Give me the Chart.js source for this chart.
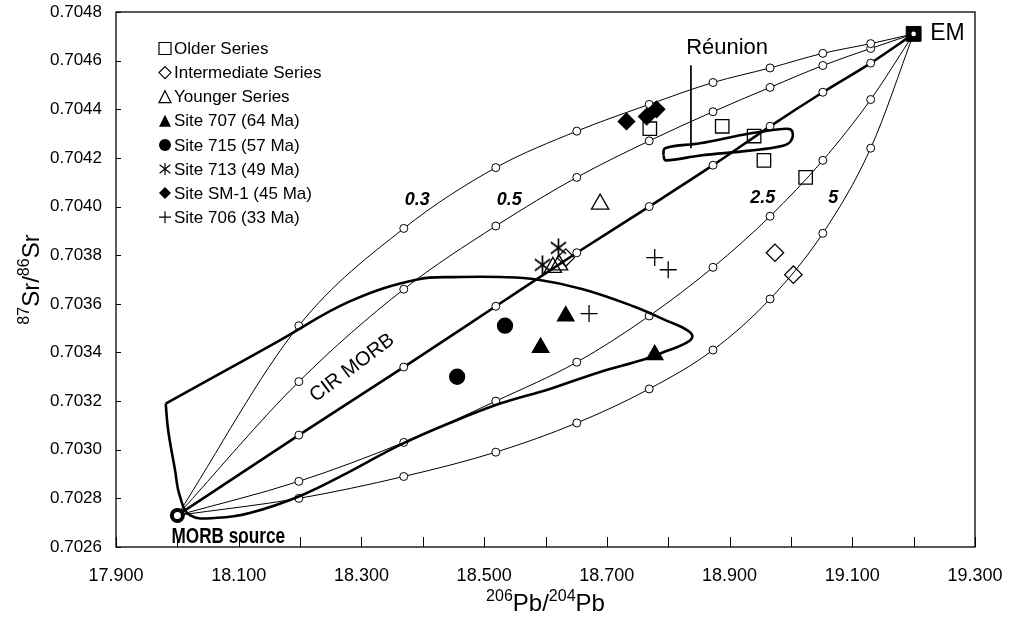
<!DOCTYPE html>
<html><head><meta charset="utf-8">
<script src="https://cdn.jsdelivr.net/npm/chart.js@4.4.1/dist/chart.umd.min.js"></script>
<style>html,body{margin:0;padding:0;background:#fff}#wrap{width:1010px;height:621px;position:relative}</style>
</head><body><div id="wrap"><canvas id="c"></canvas></div>
<script>
// ---- axis ticks ----
const xTicks = [17.9, 18.0, 18.1, 18.2, 18.3, 18.4, 18.5, 18.6, 18.7, 18.8, 18.9, 19.0, 19.1, 19.2, 19.3];
const yTicks = [0.7026, 0.7028, 0.7030, 0.7032, 0.7034, 0.7036, 0.7038, 0.7040, 0.7042, 0.7044, 0.7046, 0.7048];

// ---- mixing curves (MORB source -> EM), circles at 10% steps ----
const mixX  = [18.000, 18.198, 18.369, 18.519, 18.651, 18.769, 18.873, 18.966, 19.052, 19.130, 19.200];
const mix03 = [0.70273, 0.70351, 0.70391, 0.70416, 0.70431, 0.70442, 0.70451, 0.70457, 0.70463, 0.70467, 0.70471];
const mix05 = [0.70273, 0.70328, 0.70366, 0.70392, 0.70412, 0.70427, 0.70439, 0.70449, 0.70458, 0.70465, 0.70471];
const mix1  = [0.70273, 0.70306, 0.70334, 0.70359, 0.70381, 0.70400, 0.70417, 0.70433, 0.70447, 0.70459, 0.70471];
const mix25 = [0.70273, 0.70287, 0.70303, 0.70320, 0.70336, 0.70355, 0.70375, 0.70396, 0.70419, 0.70444, 0.70471];
const mix5  = [0.70273, 0.70280, 0.70289, 0.70299, 0.70311, 0.70325, 0.70341, 0.70362, 0.70389, 0.70424, 0.70471];
const curveLabels = ['0.3', '0.5', '2.5', '5'];

// ---- end members ----
const emX = [19.200], emY = [0.70471];
const morbX = [18.000], morbY = [0.70273];

// ---- samples ----
const olderX = [18.770, 18.888, 18.940, 18.956, 19.024];
const olderY = [0.70432, 0.70433, 0.70429, 0.70419, 0.70412];
const interX = [18.633, 18.974, 19.004];
const interY = [0.70379, 0.70381, 0.70372];
const youngX = [18.689, 18.612, 18.622];
const youngY = [0.70401, 0.70375, 0.70376];
const s707X = [18.633, 18.592, 18.778];
const s707Y = [0.70355, 0.70342, 0.70339];
const s715X = [18.534, 18.456];
const s715Y = [0.70351, 0.70330];
const s713X = [18.621, 18.595];
const s713Y = [0.70383, 0.70376];
const sm1X = [18.732, 18.765, 18.781];
const sm1Y = [0.70435, 0.70437, 0.70440];
const s706X = [18.671, 18.778, 18.800];
const s706Y = [0.70356, 0.70379, 0.70374];
const legendLabels = ['Older Series', 'Intermediate Series', 'Younger Series', 'Site 707 (64 Ma)', 'Site 715 (57 Ma)', 'Site 713 (49 Ma)', 'Site SM-1 (45 Ma)', 'Site 706 (33 Ma)'];

// ---- fields ----
const cirX = [17.981, 18.053, 18.167, 18.281, 18.391, 18.461, 18.526, 18.586, 18.661, 18.743, 18.798, 18.832, 18.839, 18.822, 18.791, 18.759, 18.689, 18.607, 18.526, 18.444, 18.363, 18.281, 18.200, 18.118, 18.065, 18.021, 18.004, 17.996, 17.985, 17.981];
const cirY = [0.70319, 0.70329, 0.70345, 0.70361, 0.70370, 0.70371, 0.70371, 0.70370, 0.70366, 0.70359, 0.70353, 0.70349, 0.70346, 0.70343, 0.70340, 0.70337, 0.70332, 0.70325, 0.70319, 0.70311, 0.70302, 0.70291, 0.70281, 0.70274, 0.70272, 0.70273, 0.70281, 0.70292, 0.70308, 0.70319];
const reuX = [18.792, 18.795, 18.852, 18.933, 18.992, 19.002, 19.000, 18.987, 18.933, 18.852, 18.796, 18.792];
const reuY = [0.70421, 0.70424, 0.70426, 0.70430, 0.70432, 0.70431, 0.70427, 0.70425, 0.70423, 0.70421, 0.70419, 0.70421];
const leadX = [18.837, 18.837];
const leadY = [0.70458, 0.70424];

const FONT = "Arial, 'Liberation Sans', Helvetica, sans-serif";
const pts = (xs, ys) => xs.map((x, i) => ({x: x, y: ys[i]}));

// asterisk (6-armed) point style
function makeAsterisk(size, lw) {
  const c = document.createElement('canvas');
  c.width = size; c.height = size;
  const g = c.getContext('2d');
  g.strokeStyle = '#000'; g.lineWidth = lw;
  const m = size / 2, r = size / 2 - 1;
  g.beginPath();
  g.moveTo(m, m - r); g.lineTo(m, m + r);
  g.moveTo(m - r * 0.8, m - r * 0.6); g.lineTo(m + r * 0.8, m + r * 0.6);
  g.moveTo(m - r * 0.8, m + r * 0.6); g.lineTo(m + r * 0.8, m - r * 0.6);
  g.stroke();
  return c;
}
const asterBig = makeAsterisk(21, 1.7);

function curve(ys, w) {
  return {
    data: pts(mixX, ys), showLine: true, borderColor: '#000', borderWidth: w,
    cubicInterpolationMode: 'monotone',
    pointStyle: 'circle', pointRadius: ys.map((v, i) => (i === 0 || i === ys.length - 1) ? 0 : 4),
    pointBackgroundColor: '#fff', pointBorderColor: '#000', pointBorderWidth: 1, order: 10
  };
}
function markers(xs, ys, style, r, filled, extra) {
  return Object.assign({
    data: pts(xs, ys), showLine: false, pointStyle: style, pointRadius: r,
    pointBackgroundColor: filled ? '#000' : 'rgba(255,255,255,0)', pointBorderColor: '#000',
    pointBorderWidth: 1.3, order: 1
  }, extra || {});
}

const datasets = [
  markers(olderX, olderY, 'rect', 9.5, false),
  markers(interX, interY, 'rectRot', 8.7, false),
  markers(youngX, youngY, 'triangle', 10, false),
  markers(s707X, s707Y, 'triangle', 9.5, true),
  markers(s715X, s715Y, 'circle', 7.5, true),
  markers(s713X, s713Y, asterBig, 10, false),
  markers(sm1X, sm1Y, 'rectRot', 8.2, true),
  markers(s706X, s706Y, 'cross', 8.5, false),
  // end members
  {data: pts(emX, emY), showLine: false, pointStyle: 'circle', pointRadius: 2.3, pointBackgroundColor: '#fff', pointBorderWidth: 0, order: 2},
  {data: pts(emX, emY), showLine: false, pointStyle: 'rect', pointRadius: 10.5, pointBackgroundColor: '#000', pointBorderColor: '#000', pointBorderWidth: 1, order: 3},
  {data: pts(morbX, morbY), showLine: false, pointStyle: 'circle', pointRadius: 5.5, pointBackgroundColor: '#fff', pointBorderColor: '#000', pointBorderWidth: 4, order: 3},
  // fields
  {data: pts(cirX, cirY), showLine: true, borderColor: '#000', borderWidth: 2.6, tension: 0.4, pointRadius: 0, order: 5},
  {data: pts(reuX, reuY), showLine: true, borderColor: '#000', borderWidth: 2.6, tension: 0.4, pointRadius: 0, order: 5},
  {data: pts(leadX, leadY), showLine: true, borderColor: '#000', borderWidth: 1, pointRadius: 0, order: 6},
  // mixing curves
  curve(mix03, 1), curve(mix05, 1), curve(mix1, 2.6), curve(mix25, 1), curve(mix5, 1)
];

function drawMarker(ctx, kind, x, y, s) {
  ctx.save();
  ctx.strokeStyle = '#000'; ctx.fillStyle = '#000'; ctx.lineWidth = 1.2;
  ctx.beginPath();
  if (kind === 'sq') { ctx.rect(x - s / 2, y - s / 2, s, s); ctx.stroke(); }
  else if (kind === 'dia' || kind === 'diaF') { ctx.moveTo(x, y - s / 2); ctx.lineTo(x + s / 2, y); ctx.lineTo(x, y + s / 2); ctx.lineTo(x - s / 2, y); ctx.closePath(); kind === 'diaF' ? ctx.fill() : ctx.stroke(); }
  else if (kind === 'tri' || kind === 'triF') { ctx.moveTo(x, y - s / 2); ctx.lineTo(x + s / 2, y + s / 2); ctx.lineTo(x - s / 2, y + s / 2); ctx.closePath(); kind === 'triF' ? ctx.fill() : ctx.stroke(); }
  else if (kind === 'cir') { ctx.arc(x, y, s / 2, 0, Math.PI * 2); ctx.fill(); }
  else if (kind === 'ast') { ctx.moveTo(x, y - s / 2); ctx.lineTo(x, y + s / 2); ctx.moveTo(x - s * 0.45, y - s * 0.35); ctx.lineTo(x + s * 0.45, y + s * 0.35); ctx.moveTo(x - s * 0.45, y + s * 0.35); ctx.lineTo(x + s * 0.45, y - s * 0.35); ctx.stroke(); }
  else if (kind === 'cross') { ctx.moveTo(x, y - s / 2); ctx.lineTo(x, y + s / 2); ctx.moveTo(x - s / 2, y); ctx.lineTo(x + s / 2, y); ctx.stroke(); }
  ctx.restore();
}

function supText(ctx, parts, big, small, rise) {
  ctx.save();
  let total = 0;
  parts.forEach(p => { ctx.font = p[1] ? small : big; p.w = ctx.measureText(p[0]).width; total += p.w; });
  let x = -total / 2;
  parts.forEach(p => { ctx.font = p[1] ? small : big; ctx.fillText(p[0], x, p[1] ? -rise : 0); x += p.w; });
  ctx.restore();
}

const decor = {
  id: 'decor',
  afterDraw(chart) {
    const ctx = chart.ctx, a = chart.chartArea, xs = chart.scales.x, ys = chart.scales.y;
    ctx.save();
    ctx.strokeStyle = '#000'; ctx.lineWidth = 1.3;
    ctx.strokeRect(a.left, a.top, a.right - a.left, a.bottom - a.top);
    ctx.lineWidth = 1;
    ctx.beginPath();
    xTicks.forEach(v => { const p = Math.round(xs.getPixelForValue(v)) + 0.5; ctx.moveTo(p, a.bottom); ctx.lineTo(p, a.bottom - 10); });
    yTicks.forEach(v => { const p = Math.round(ys.getPixelForValue(v)) + 0.5; ctx.moveTo(a.left, p); ctx.lineTo(a.left + 5, p); });
    ctx.stroke();

    ctx.fillStyle = '#000';
    const X = v => xs.getPixelForValue(v), Y = v => ys.getPixelForValue(v);
    ctx.textBaseline = 'alphabetic'; ctx.textAlign = 'left';
    ctx.save(); ctx.translate((a.left + a.right) / 2, 611);
    supText(ctx, [['206', 1], ['Pb/', 0], ['204', 1], ['Pb', 0]], '24px ' + FONT, '16px ' + FONT, 10);
    ctx.restore();
    ctx.save(); ctx.translate(39, (a.top + a.bottom) / 2); ctx.rotate(-Math.PI / 2);
    supText(ctx, [['87', 1], ['Sr/', 0], ['86', 1], ['Sr', 0]], '24px ' + FONT, '16px ' + FONT, 10);
    ctx.restore();

    ctx.font = 'italic bold 18px ' + FONT; ctx.textAlign = 'center'; ctx.textBaseline = 'middle';
    ctx.fillText(curveLabels[0], X(18.391), Y(0.704027));
    ctx.fillText(curveLabels[1], X(18.541), Y(0.704027));
    ctx.fillText(curveLabels[2], X(18.954), Y(0.704035));
    ctx.fillText(curveLabels[3], X(19.069), Y(0.704035));
    ctx.font = '23px ' + FONT; ctx.textAlign = 'left';
    ctx.fillText('EM', X(19.227), Y(0.704714) + 1);
    ctx.font = '22px ' + FONT; ctx.textAlign = 'center';
    ctx.fillText('Réunion', X(18.896), Y(0.704652));
    ctx.save(); ctx.translate(X(18.083), Y(0.702641)); ctx.scale(0.78, 1);
    ctx.font = 'bold 22px ' + FONT; ctx.fillText('MORB source', 0, 0);
    ctx.restore();
    ctx.save(); ctx.translate(X(18.285), Y(0.703336)); ctx.rotate(-37 * Math.PI / 180);
    ctx.font = '20px ' + FONT; ctx.fillText('CIR MORB', 0, 0);
    ctx.restore();

    const kinds = ['sq', 'dia', 'tri', 'triF', 'cir', 'ast', 'diaF', 'cross'];
    ctx.font = '17px ' + FONT; ctx.textAlign = 'left'; ctx.textBaseline = 'middle';
    legendLabels.forEach((t, i) => {
      const yy = 48.5 + i * 24.1;
      drawMarker(ctx, kinds[i], 165, yy, 12);
      ctx.fillText(t, 174, yy + 1);
    });
    ctx.restore();
  }
};

Chart.defaults.font.family = FONT;
Chart.defaults.color = '#000';
new Chart(document.getElementById('c'), {
  type: 'scatter',
  data: {datasets: datasets},
  options: {
    responsive: true, maintainAspectRatio: false, animation: false, events: [],
    layout: {padding: {left: 0, right: 35, top: 12, bottom: 0}, autoPadding: false},
    plugins: {legend: {display: false}, tooltip: {enabled: false}},
    scales: {
      x: {
        type: 'linear', min: 17.9, max: 19.3,
        afterBuildTicks: s => { s.ticks = xTicks.map(v => ({value: v})); },
        afterFit: s => { s.height = 74; s.paddingLeft = 0; s.paddingRight = 0; },
        grid: {display: false, drawTicks: false}, border: {display: false},
        ticks: {autoSkip: false, maxRotation: 0, padding: 18, font: {size: 18}, color: '#000',
          callback: (v, i) => (i % 2 === 0 ? Number(v).toFixed(3) : '')}
      },
      y: {
        type: 'linear', min: 0.7026, max: 0.7048,
        afterBuildTicks: s => { s.ticks = yTicks.map(v => ({value: v})); },
        afterFit: s => { s.width = 116; s.paddingTop = 0; s.paddingBottom = 0; },
        grid: {display: false, drawTicks: false}, border: {display: false},
        ticks: {autoSkip: false, padding: 14, font: {size: 17}, color: '#000',
          callback: v => Number(v).toFixed(4)}
      }
    }
  },
  plugins: [decor]
});
</script>
</body></html>
